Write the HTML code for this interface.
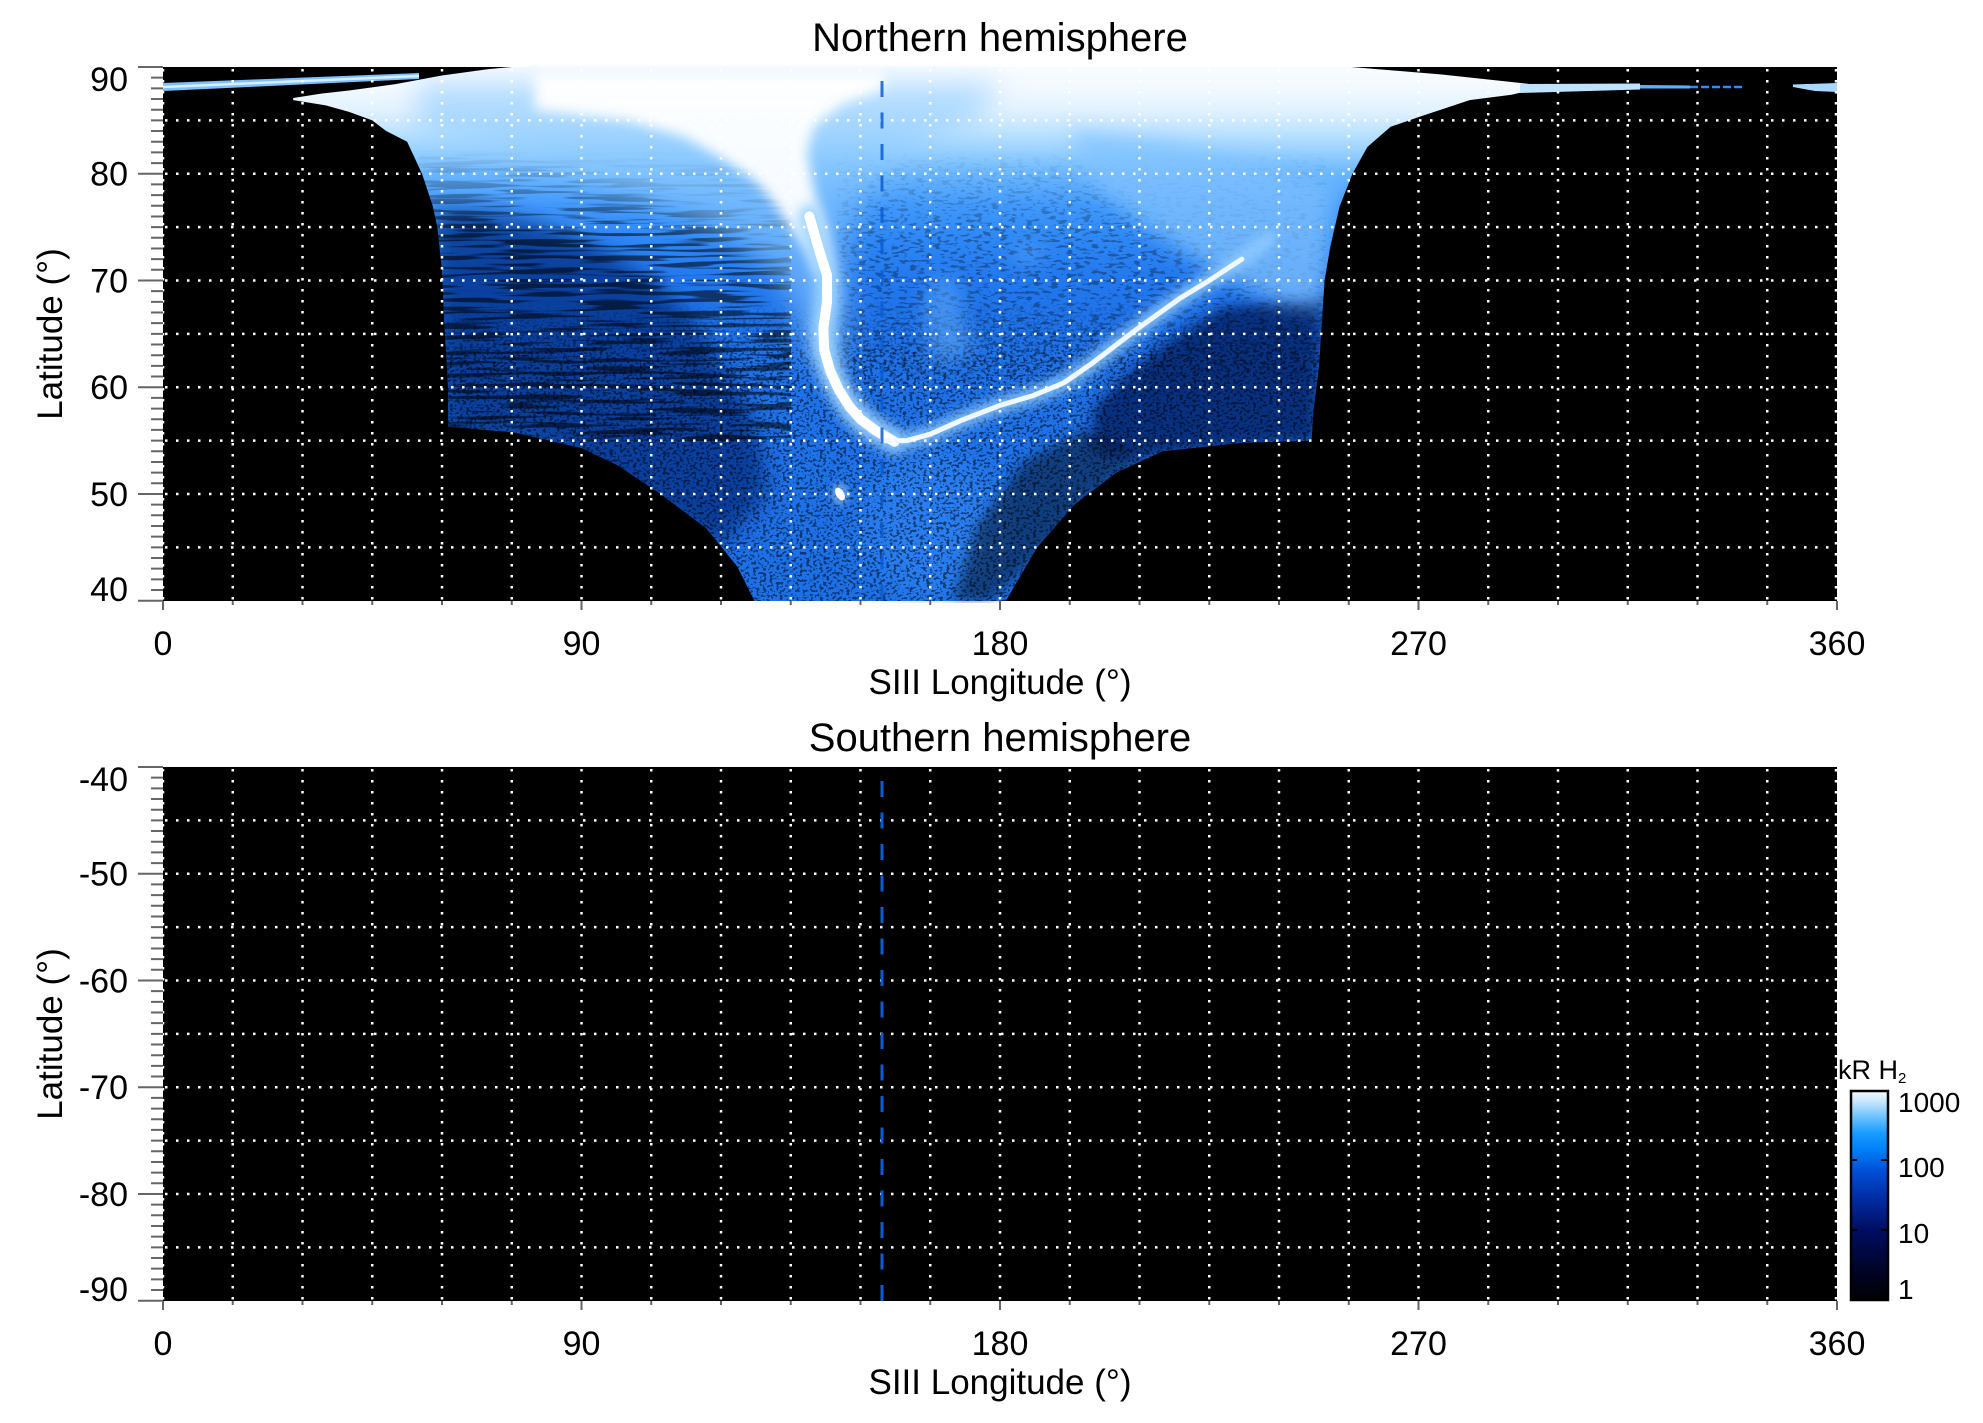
<!DOCTYPE html>
<html><head><meta charset="utf-8"><style>
html,body{margin:0;padding:0;background:#fff;}
svg{display:block;}
text{font-family:"Liberation Sans",Arial,sans-serif;fill:#000;}
</style></head><body>
<svg width="1983" height="1423" viewBox="0 0 1983 1423" xmlns="http://www.w3.org/2000/svg">
<defs>
 <linearGradient id="dg" gradientUnits="userSpaceOnUse" x1="0" y1="67" x2="0" y2="601">
  <stop offset="0" stop-color="#f8fcff"/>
  <stop offset="0.04" stop-color="#f2f9ff"/>
  <stop offset="0.08" stop-color="#e2f2ff"/>
  <stop offset="0.12" stop-color="#c0e4ff"/>
  <stop offset="0.16" stop-color="#96d0ff"/>
  <stop offset="0.2" stop-color="#6ab6ff"/>
  <stop offset="0.26" stop-color="#4199fc"/>
  <stop offset="0.32" stop-color="#2e88f6"/>
  <stop offset="0.4" stop-color="#2278ee"/>
  <stop offset="0.5" stop-color="#1e72ea"/>
  <stop offset="0.7" stop-color="#1e72ea"/>
  <stop offset="1" stop-color="#1c70e8"/>
 </linearGradient>
 <linearGradient id="cb" x1="0" y1="1" x2="0" y2="0">
  <stop offset="0" stop-color="#000000"/>
  <stop offset="0.12" stop-color="#000320"/>
  <stop offset="0.33" stop-color="#000c60"/>
  <stop offset="0.5" stop-color="#0030a8"/>
  <stop offset="0.62" stop-color="#0050d8"/>
  <stop offset="0.72" stop-color="#0080f8"/>
  <stop offset="0.8" stop-color="#1a9cff"/>
  <stop offset="0.88" stop-color="#70c4ff"/>
  <stop offset="0.95" stop-color="#c8e6ff"/>
  <stop offset="1" stop-color="#f4faff"/>
 </linearGradient>
 <linearGradient id="fA" gradientUnits="userSpaceOnUse" x1="0" y1="300" x2="0" y2="601">
  <stop offset="0" stop-color="#000"/><stop offset="0.2" stop-color="#fff"/><stop offset="1" stop-color="#fff"/>
 </linearGradient>
 <linearGradient id="fB" gradientUnits="userSpaceOnUse" x1="0" y1="150" x2="0" y2="441">
  <stop offset="0" stop-color="#000"/><stop offset="0.3" stop-color="#fff"/><stop offset="1" stop-color="#fff"/>
 </linearGradient>
 <linearGradient id="fC" gradientUnits="userSpaceOnUse" x1="0" y1="150" x2="0" y2="400">
  <stop offset="0" stop-color="#000"/><stop offset="0.35" stop-color="#fff"/><stop offset="0.85" stop-color="#fff"/><stop offset="1" stop-color="#000"/>
 </linearGradient>
 <mask id="mA" maskUnits="userSpaceOnUse" x="0" y="0" width="1983" height="700"><rect x="442" y="300" width="884" height="301" fill="url(#fA)"/></mask>
 <mask id="mB" maskUnits="userSpaceOnUse" x="0" y="0" width="1983" height="700"><rect x="419" y="150" width="372" height="291" fill="url(#fB)"/></mask>
 <mask id="mC" maskUnits="userSpaceOnUse" x="0" y="0" width="1983" height="700"><rect x="837" y="150" width="489" height="250" fill="url(#fC)"/></mask>
 <clipPath id="mc"><polygon transform="matrix(4.65 0 0 -10.674 163 1027.66)" points="28,87.1 34,87.5 40,87.8 50,88.4 60,89.2 70,89.8 80,90.2 250,90.2 275,89.3 290,88.6 298,88.2 290,87.4 281,86.9 270,85.3 264,84.4 259,82.5 255.8,80 253,76.9 251,73.1 249.8,70 248.6,62 247.4,57.8 247,55 232,54.8 215,54 205,52 196,49 188,45 181,39.8 127.4,39.8 123.5,43.2 116.8,46.8 107,50 97.7,52.7 90,54.3 75,55.8 61.3,56.3 61.3,60 60.5,66 60,71 59,75 58,77 55.7,80 52.5,83 48,84 45,85 40,85.8 35,86.4 28,86.9"/></clipPath>
 <filter id="b4" x="-20%" y="-20%" width="140%" height="140%"><feGaussianBlur stdDeviation="4"/></filter>
 <filter id="b6" x="-20%" y="-20%" width="140%" height="140%"><feGaussianBlur stdDeviation="6"/></filter>
 <filter id="b10" x="-20%" y="-20%" width="140%" height="140%"><feGaussianBlur stdDeviation="10"/></filter>
 <filter id="b14" x="-20%" y="-20%" width="140%" height="140%"><feGaussianBlur stdDeviation="14"/></filter>
 <filter id="spA" x="0" y="0" width="1" height="1" color-interpolation-filters="sRGB">
  <feTurbulence type="fractalNoise" baseFrequency="0.3 0.4" numOctaves="2" seed="4"/>
  <feColorMatrix type="matrix" values="0 0 0 0 0  0 0 0 0 0  0 0 0 0 0  -12 0 0 0 5.6"/>
 </filter>
 <filter id="spB" x="0" y="0" width="1" height="1" color-interpolation-filters="sRGB">
  <feTurbulence type="fractalNoise" baseFrequency="0.012 0.25" numOctaves="2" seed="9"/>
  <feColorMatrix type="matrix" values="0 0 0 0 0  0 0 0 0 0  0 0 0 0 0  -9 0 0 0 4.6"/>
 </filter>
 <filter id="spC" x="0" y="0" width="1" height="1" color-interpolation-filters="sRGB">
  <feTurbulence type="fractalNoise" baseFrequency="0.12 0.35" numOctaves="2" seed="13"/>
  <feColorMatrix type="matrix" values="0 0 0 0 0  0 0 0 0 0  0 0 0 0 0  -12 0 0 0 5.4"/>
 </filter>
 <g id="vgrid" stroke="#fff" stroke-width="2.5" stroke-dasharray="2.5 8.5" fill="none">
  <path d="M163,69V601 M232.75,69V601 M302.5,69V601 M372.25,69V601 M442,69V601 M511.75,69V601 M581.5,69V601 M651.25,69V601 M721,69V601 M790.75,69V601 M860.5,69V601 M930.25,69V601 M1000,69V601 M1069.75,69V601 M1139.5,69V601 M1209.25,69V601 M1279,69V601 M1348.75,69V601 M1418.5,69V601 M1488.25,69V601 M1558,69V601 M1627.75,69V601 M1697.5,69V601 M1767.25,69V601 M1836,69V601"/>
  <path d="M165,120.4H1837 M165,173.74H1837 M165,227.11H1837 M165,280.48H1837 M165,333.85H1837 M165,387.22H1837 M165,440.59H1837 M165,493.96H1837 M165,547.33H1837"/>
 </g>
 <g id="ticks" stroke="#666" stroke-width="2" fill="none">
  <path d="M151,77.67h12M151,88.35h12M151,99.02h12M151,109.7h12M151,120.37h12M151,131.04h12M151,141.72h12M151,152.39h12M151,163.07h12M151,184.41h12M151,195.09h12M151,205.76h12M151,216.44h12M151,227.11h12M151,237.78h12M151,248.46h12M151,259.13h12M151,269.81h12M151,291.15h12M151,301.83h12M151,312.5h12M151,323.18h12M151,333.85h12M151,344.52h12M151,355.2h12M151,365.87h12M151,376.55h12M151,397.89h12M151,408.57h12M151,419.24h12M151,429.92h12M151,440.59h12M151,451.26h12M151,461.94h12M151,472.61h12M151,483.29h12M151,504.63h12M151,515.31h12M151,525.98h12M151,536.66h12M151,547.33h12M151,558h12M151,568.68h12M151,579.35h12M151,590.03h12"/>
  <path d="M138,67h25M138,173.74h25M138,280.48h25M138,387.22h25M138,493.96h25M138,600.7h25"/>
  <path d="M163,601v9M581.5,601v9M1000,601v9M1418.5,601v9M1837,601v9"/>
  <path d="M232.75,601v4M302.5,601v4M372.25,601v4M442,601v4M511.75,601v4M651.25,601v4M721,601v4M790.75,601v4M860.5,601v4M930.25,601v4M1069.75,601v4M1139.5,601v4M1209.25,601v4M1279,601v4M1348.75,601v4M1488.25,601v4M1558,601v4M1627.75,601v4M1697.5,601v4M1767.25,601v4"/>
 </g>
</defs>

<!-- ================= TOP PANEL ================= -->
<rect x="163" y="67" width="1674" height="534" fill="#000"/>

<g clip-path="url(#mc)">
 <rect x="163" y="67" width="1674" height="534" fill="url(#dg)"/>
 <g filter="url(#b14)">
  <ellipse cx="930" cy="525" rx="70" ry="75" fill="#3a90ff" opacity="0.4"/>
 </g>
 <g filter="url(#b10)">
  <polygon transform="matrix(4.65 0 0 -10.674 163 1027.66)" fill="#06267e" opacity="0.7" points="58,76.5 68,76.5 80,75.5 92,73.5 104,70.5 114,66.5 122,61 128,56 130,50 120,45 100,50 80,55 60,56"/>
 </g>
 <g filter="url(#b6)">
  <polygon transform="matrix(4.65 0 0 -10.674 163 1027.66)" fill="#04185e" opacity="0.75" points="200,58 208,61.5 217,64.5 228,67.5 249,68.5 248,55 232,54.5 212,53.5 200,54"/>
  <polygon transform="matrix(4.65 0 0 -10.674 163 1027.66)" fill="#000" opacity="0.45" points="170,40 178,40 190,45 200,50 212,53.5 198,56 185,53 175,47"/>
 </g>
 <!-- speckle textures -->
 <g mask="url(#mA)"><rect x="442" y="300" width="884" height="301" filter="url(#spA)" opacity="0.52"/></g>
 <g mask="url(#mB)"><rect x="419" y="150" width="372" height="291" filter="url(#spB)" opacity="0.55"/></g>
 <g mask="url(#mC)"><rect x="837" y="150" width="489" height="250" filter="url(#spC)" opacity="0.3"/></g>
 <!-- light zones -->
 <g filter="url(#b10)">
  <polygon transform="matrix(4.65 0 0 -10.674 163 1027.66)" fill="#80c2ff" opacity="0.75" points="195,84 215,83 235,81 252,79 251,72 249,67.5 240,68 230,70 220,72.5 210,75.5 200,79"/>
  <ellipse cx="944" cy="320" rx="18" ry="45" fill="#6ab4ff" opacity="0.5"/>
  <ellipse cx="1028" cy="254" rx="14" ry="10" fill="#6ab4ff" opacity="0.5"/>
  <ellipse cx="963" cy="344" rx="12" ry="10" fill="#6ab4ff" opacity="0.5"/>
 </g>
 <g filter="url(#b14)">
  <polygon transform="matrix(4.65 0 0 -10.674 163 1027.66)" fill="#8ccaff" opacity="0.6" points="55,84 75,82 90,79.5 104,77.5 116,75.5 126,73 133,70 137,66 140,62 146,62 147,67 147,73 150,78 160,82 175,85 180,88.5 55,88.5"/>
 </g>
 <g filter="url(#b6)">
  <polygon transform="matrix(4.65 0 0 -10.674 163 1027.66)" fill="#ffffff" opacity="0.95" points="80,86 100,85 112,83.5 120,81.5 127,79.5 131,77.5 135,75 139,72.5 141,70.5 143.5,71 142.5,74.5 140,78.5 138.5,82 140,84.5 146,86.5 155,88 155,89.5 80,89.5"/>
 </g>
 <!-- main oval streaks -->
 <g filter="url(#b6)">
  <polyline transform="matrix(4.65 0 0 -10.674 163 1027.66)" fill="none" stroke="#9fd4ff" stroke-width="24" vector-effect="non-scaling-stroke" stroke-linecap="round" stroke-linejoin="round" points="139,76 141,73 142.8,70.5 142.8,68 142,65.5 142.2,63.5 143.5,61.5 145.3,59.8 147.6,58.2 150,57 153.4,55.9 157.3,54.9"/>
  <polyline transform="matrix(4.65 0 0 -10.674 163 1027.66)" fill="none" stroke="#8fcaff" stroke-width="14" vector-effect="non-scaling-stroke" stroke-linecap="round" stroke-linejoin="round" points="155,55 160,55 165,55.6 171.7,56.9 180,58.3 187,59.2 193.7,60.4 200,62.3 209,65.3 218.6,68.3 225,70 232,72 238,74"/>
 </g>
 <g filter="url(#b4)" opacity="0.5"><ellipse cx="840" cy="494" rx="8" ry="11" fill="#bfe3ff"/></g>
 <polyline transform="matrix(4.65 0 0 -10.674 163 1027.66)" fill="none" stroke="#ffffff" stroke-width="10" vector-effect="non-scaling-stroke" stroke-linecap="round" stroke-linejoin="round" points="139,76 141,73 142.8,70.5 142.8,68 142,65.5 142.2,63.5 143.5,61.5 145.3,59.8 147.6,58.2 150,57 153.4,55.9 157.3,54.9"/>
 <polyline transform="matrix(4.65 0 0 -10.674 163 1027.66)" fill="none" stroke="#f0f8ff" stroke-width="5" vector-effect="non-scaling-stroke" stroke-linecap="round" stroke-linejoin="round" points="155,55 160,55 165,55.6 171.7,56.9 180,58.3 187,59.2 193.7,60.4 200,62.3 209,65.3 218.6,68.3 225,70 232,72"/>
 <ellipse cx="840" cy="494" rx="4" ry="7" fill="#fff" transform="rotate(-30 840 494)"/>
</g>

<!-- thin streaks near lat 88 -->
<polygon points="163,83 419,73 419,79 163,91" fill="#7cc0ff"/>
<line x1="163" y1="87" x2="419" y2="76" stroke="#d8efff" stroke-width="2.5"/>
<polygon points="1520,84 1640,83.5 1640,89.5 1520,93" fill="#bfe2ff"/>
<polygon points="1640,85 1690,85.5 1690,88.5 1640,88.5" fill="#5ab0ff"/>
<line x1="1690" y1="87" x2="1745" y2="87" stroke="#2a8cff" stroke-width="2.5" stroke-dasharray="8 3"/>
<polygon points="1793,84.5 1837,83 1837,92 1815,91 1793,87" fill="#a8d8ff"/>

<use href="#vgrid"/>
<line x1="882" y1="81" x2="882" y2="601" stroke="#0b5cd2" stroke-width="3" stroke-dasharray="16 15.5" opacity="0.85"/>
<use href="#ticks"/>

<text x="1000" y="51" font-size="40" text-anchor="middle">Northern hemisphere</text>
<g font-size="34" text-anchor="end">
 <text x="128" y="91">90</text>
 <text x="128" y="185.7">80</text>
 <text x="128" y="292.5">70</text>
 <text x="128" y="399.2">60</text>
 <text x="128" y="506">50</text>
 <text x="128" y="601">40</text>
</g>
<g font-size="34" text-anchor="middle">
 <text x="163" y="655">0</text>
 <text x="581.5" y="655">90</text>
 <text x="1000" y="655">180</text>
 <text x="1418.5" y="655">270</text>
 <text x="1837" y="655">360</text>
</g>
<text x="1000" y="694" font-size="35" text-anchor="middle">SIII Longitude (°)</text>
<text transform="translate(62,334) rotate(-90)" font-size="35" text-anchor="middle">Latitude (°)</text>

<!-- ================= BOTTOM PANEL ================= -->
<rect x="163" y="767" width="1674" height="534" fill="#000"/>
<use href="#vgrid" y="700"/>
<line x1="882" y1="781" x2="882" y2="1301" stroke="#0b5cd2" stroke-width="3" stroke-dasharray="16 15.5"/>
<use href="#ticks" y="700"/>

<text x="1000" y="751" font-size="40" text-anchor="middle">Southern hemisphere</text>
<g font-size="34" text-anchor="end">
 <text x="128" y="791">-40</text>
 <text x="128" y="885.7">-50</text>
 <text x="128" y="992.5">-60</text>
 <text x="128" y="1099.2">-70</text>
 <text x="128" y="1206">-80</text>
 <text x="128" y="1301">-90</text>
</g>
<g font-size="34" text-anchor="middle">
 <text x="163" y="1355">0</text>
 <text x="581.5" y="1355">90</text>
 <text x="1000" y="1355">180</text>
 <text x="1418.5" y="1355">270</text>
 <text x="1837" y="1355">360</text>
</g>
<text x="1000" y="1394" font-size="35" text-anchor="middle">SIII Longitude (°)</text>
<text transform="translate(62,1034) rotate(-90)" font-size="35" text-anchor="middle">Latitude (°)</text>

<!-- ================= COLORBAR ================= -->
<rect x="1851" y="1091" width="37" height="209" fill="url(#cb)" stroke="#000" stroke-width="2.5"/>
<g stroke="#000" stroke-width="2">
 <line x1="1881" y1="1160" x2="1888" y2="1160"/>
 <line x1="1881" y1="1230" x2="1888" y2="1230"/>
 <line x1="1851" y1="1160" x2="1857" y2="1160"/>
 <line x1="1851" y1="1230" x2="1857" y2="1230"/>
</g>
<text x="1838" y="1079" font-size="27">kR H<tspan font-size="15" dy="4">2</tspan></text>
<g font-size="28">
 <text x="1898" y="1112">1000</text>
 <text x="1898" y="1177">100</text>
 <text x="1898" y="1243">10</text>
 <text x="1898" y="1299">1</text>
</g>
</svg>
</body></html>
